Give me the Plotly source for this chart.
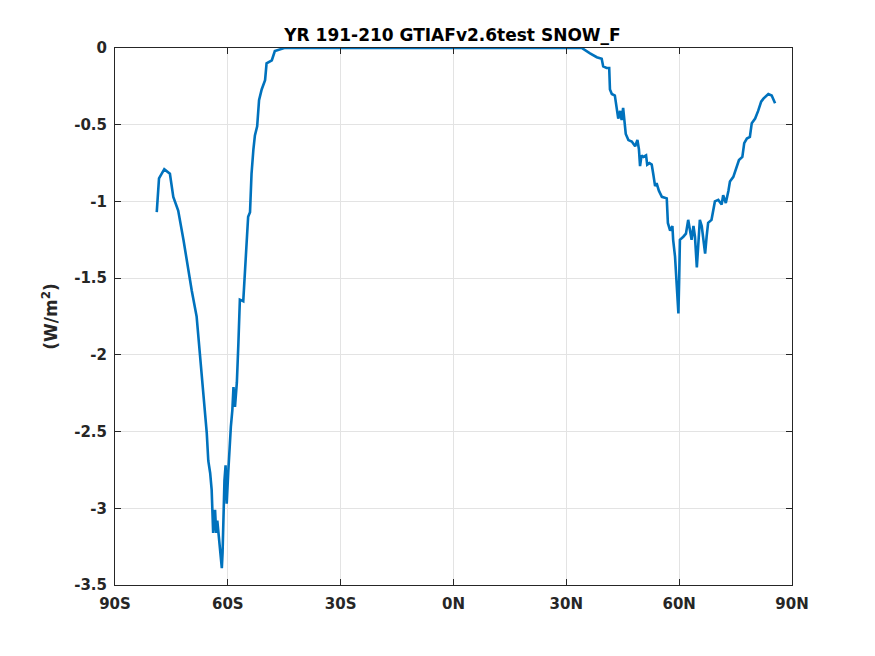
import plotly.graph_objects as go

# zonal mean SNOW_F
lat = [
    -78.9, -78.3, -76.9, -75.4, -74.5, -73.2, -71.8, -70.5, -69.6, -68.3,
    -67.4, -66.5, -65.6, -65.2, -64.7, -64.3, -64.1, -63.9, -63.4, -63.1,
    -62.8, -62.5, -62.1, -61.6, -61.4, -61.2, -60.9, -60.6, -60.3, -59.9,
    -59.6, -59.2, -58.8, -58.5, -58.1, -57.6, -57.2, -56.9, -56.8, -55.9,
    -55.4, -55.0, -54.6, -54.1, -53.7, -53.2, -52.8, -52.2, -51.7, -51.0,
    -50.1, -49.7, -48.3, -47.5, -46.1, -45.0, -20.0, 0.0, 20.0, 34.1,
    36.3, 38.1, 39.4, 39.8, 40.7, 41.4, 41.6, 42.1, 42.9, 43.4,
    43.8, 44.3, 44.7, 45.1, 45.4, 45.8, 46.5, 47.4, 48.3, 48.9,
    49.3, 49.6, 50.0, 50.5, 51.2, 51.5, 52.1, 52.7, 53.1, 53.6,
    54.0, 54.6, 55.4, 56.7, 57.0, 57.6, 58.2, 58.4, 58.9, 59.2,
    59.5, 59.8, 60.0, 60.2, 61.1, 61.8, 62.4, 62.9, 63.3, 63.8,
    64.2, 64.7, 65.1, 65.5, 66.0, 66.4, 66.9, 67.3, 67.7, 68.6,
    69.1, 69.5, 70.4, 71.3, 71.7, 72.4, 73.1, 73.5, 74.4, 75.3,
    75.9, 76.8, 77.3, 78.0, 78.8, 79.3, 80.2, 81.0, 81.8, 82.4,
    83.7, 84.6, 85.5,
]
snow_f = [
    -1.07, -0.85, -0.79, -0.82, -0.97, -1.06, -1.25, -1.45, -1.58, -1.75,
    -2.01, -2.23, -2.51, -2.69, -2.77, -2.88, -3.01, -3.16, -3.01, -3.16,
    -3.08, -3.16, -3.25, -3.39, -3.29, -3.05, -2.82, -2.72, -2.97, -2.77,
    -2.60, -2.47, -2.36, -2.21, -2.34, -2.18, -1.93, -1.71, -1.64, -1.65,
    -1.45, -1.25, -1.10, -1.07, -0.82, -0.66, -0.57, -0.51, -0.34, -0.27,
    -0.21, -0.10, -0.08, -0.02, -0.01, 0.0, 0.0, 0.0, 0.0, 0.0,
    -0.035, -0.06, -0.07, -0.12, -0.13, -0.13, -0.27, -0.30, -0.31, -0.38,
    -0.46, -0.41, -0.47, -0.39, -0.49, -0.56, -0.60, -0.61, -0.64, -0.60,
    -0.66, -0.77, -0.70, -0.71, -0.70, -0.76, -0.75, -0.76, -0.82, -0.90,
    -0.88, -0.93, -0.97, -0.98, -1.14, -1.19, -1.16, -1.25, -1.36, -1.49,
    -1.66, -1.73, -1.51, -1.25, -1.23, -1.21, -1.12, -1.21, -1.25, -1.16,
    -1.23, -1.43, -1.25, -1.12, -1.16, -1.25, -1.34, -1.23, -1.14, -1.12,
    -1.06, -1.00, -0.99, -1.02, -0.96, -1.01, -0.93, -0.87, -0.84, -0.78,
    -0.73, -0.71, -0.62, -0.59, -0.58, -0.49, -0.46, -0.41, -0.35, -0.33,
    -0.30, -0.31, -0.36,
]

xtick_vals = [-90, -60, -30, 0, 30, 60, 90]
xtick_text = ["90S", "60S", "30S", "0N", "30N", "60N", "90N"]
ytick_vals = [0, -0.5, -1, -1.5, -2, -2.5, -3, -3.5]
ytick_text = ["0", "-0.5", "-1", "-1.5", "-2", "-2.5", "-3", "-3.5"]

fig = go.Figure()
fig.add_trace(go.Scatter(x=lat, y=snow_f, mode="lines",
                         line=dict(color="#0072BD", width=2.6)))

axis_style = dict(showline=True, linecolor="#262626", linewidth=1, mirror="ticks",
                  ticks="inside", ticklen=6, tickcolor="#262626",
                  showgrid=True, gridcolor="#e3e3e3", gridwidth=1, zeroline=False,
                  tickfont=dict(family="DejaVu Sans", size=15, color="#262626"))

fig.update_xaxes(range=[-90, 90], tickvals=xtick_vals,
                 ticktext=["<b>%s</b>" % t for t in xtick_text],
                 ticklabelstandoff=5, **axis_style)
fig.update_yaxes(range=[-3.5, 0], tickvals=ytick_vals,
                 ticktext=["<b>%s</b>" % t for t in ytick_text],
                 ticklabelstandoff=4,
                 title=dict(text="<b>(W/m<sup>2</sup>)</b>", standoff=12,
                            font=dict(family="DejaVu Sans", size=17, color="#262626")),
                 **axis_style)

# page body adds an 8px offset, margins compensate for it
fig.update_layout(
    width=875, height=656,
    margin=dict(l=107, r=91, t=40, b=79),
    paper_bgcolor="white", plot_bgcolor="white",
    showlegend=False,
    title=dict(text="<b>YR 191-210 GTIAFv2.6test SNOW_F</b>", x=0.508, xanchor="center",
               y=0.959, yanchor="middle",
               font=dict(family="DejaVu Sans", size=17, color="black")),
    font=dict(family="DejaVu Sans"),
)

fig.write_html("out.html")
